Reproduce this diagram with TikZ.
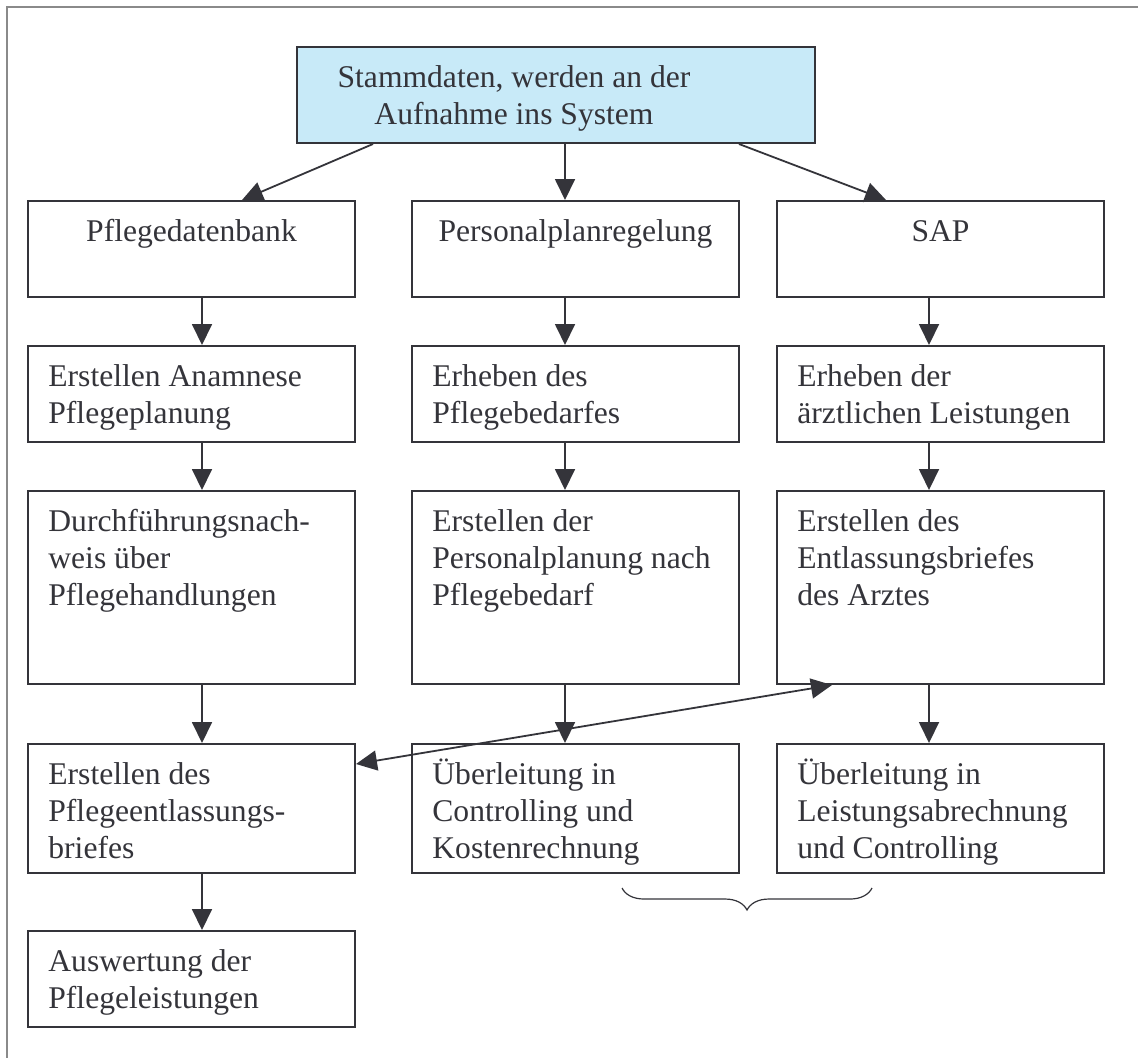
\documentclass[tikz,border=0pt]{standalone}
\usepackage{fontspec}
\setmainfont{Liberation Serif}
\usetikzlibrary{arrows.meta,calc,decorations.pathreplacing}
\definecolor{linec}{RGB}{52,52,58}
\definecolor{framec}{RGB}{138,138,138}
\definecolor{topfill}{RGB}{200,234,248}
\begin{document}
\begin{tikzpicture}[x=0.5pt,y=-0.5pt,
  box/.style={draw=linec,line width=1pt,anchor=north west,inner sep=0pt,minimum width=163.5pt},
  topbox/.style={box,fill=topfill,minimum width=259pt,minimum height=48pt},
  txt/.style={anchor=north west,inner sep=0pt,align=left,text=linec,
    font=\fontsize{15.8pt}{18.5pt}\selectfont},
  ctxt/.style={txt,anchor=north,align=center},
  arr/.style={draw=linec,line width=0.9pt,-{Triangle[length=10.5pt,width=10pt]}},
  darr/.style={draw=linec,line width=0.9pt,{Triangle[length=10.5pt,width=10pt]}-{Triangle[length=10.5pt,width=10pt]}}]
\useasboundingbox (0,0) rectangle (1138,1057);
\clip (0,0) rectangle (1138,1057);
% page frame
\draw[framec,line width=1pt] (7,1070) -- (7,7) -- (1150,7);

% top box
\node[topbox] (top) at (296,46) {};
\node[ctxt] (topt) at ($(top.north west)+(218,15)$) {\strut Stammdaten, werden an der\\Aufnahme ins System};

% row 1
\node[box,minimum height=48pt] (a1) at (27,200) {};
\node[box,minimum height=48pt] (b1) at (411,200) {};
\node[box,minimum height=48pt] (c1) at (776,200) {};
\node[ctxt] (a1t) at ($(a1.north)+(0,15)$) {\strut Pflegedatenbank};
\node[ctxt] (b1t) at ($(b1.north)+(0,15)$) {\strut Personalplanregelung};
\node[ctxt] (c1t) at ($(c1.north)+(0,15)$) {\strut SAP};

% row 2
\node[box,minimum height=48pt] (a2) at (27,345) {};
\node[box,minimum height=48pt] (b2) at (411,345) {};
\node[box,minimum height=48pt] (c2) at (776,345) {};
\node[txt] (a2t) at ($(a2.north west)+(21,15)$) {\strut Erstellen Anamnese\\Pflegeplanung};
\node[txt] (b2t) at ($(b2.north west)+(21,15)$) {\strut Erheben des\\Pflegebedarfes};
\node[txt] (c2t) at ($(c2.north west)+(21,15)$) {\strut Erheben der\\ärztlichen Leistungen};

% row 3
\node[box,minimum height=96.5pt] (a3) at (27,490) {};
\node[box,minimum height=96.5pt] (b3) at (411,490) {};
\node[box,minimum height=96.5pt] (c3) at (776,490) {};
\node[txt] (a3t) at ($(a3.north west)+(21,15)$) {\strut Durchführungsnach-\\weis über\\Pflegehandlungen};
\node[txt] (b3t) at ($(b3.north west)+(21,15)$) {\strut Erstellen der\\Personalplanung nach\\Pflegebedarf};
\node[txt] (c3t) at ($(c3.north west)+(21,15)$) {\strut Erstellen des\\Entlassungsbriefes\\des Arztes};

% row 4
\node[box,minimum height=64.5pt] (a4) at (27,743) {};
\node[box,minimum height=64.5pt] (b4) at (411,743) {};
\node[box,minimum height=64.5pt] (c4) at (776,743) {};
\node[txt] (a4t) at ($(a4.north west)+(21,15)$) {\strut Erstellen des\\Pflegeentlassungs-\\briefes};
\node[txt] (b4t) at ($(b4.north west)+(21,15)$) {\strut Überleitung in\\Controlling und\\Kostenrechnung};
\node[txt] (c4t) at ($(c4.north west)+(21,15)$) {\strut Überleitung in\\Leistungsabrechnung\\und Controlling};

% row 5
\node[box,minimum height=48pt] (a5) at (27,930) {};
\node[txt] (a5t) at ($(a5.north west)+(21,15)$) {\strut Auswertung der\\Pflegeleistungen};

% connectors from the top box
\draw[arr] ($(top.south west)+(77,0)$) -- ($(a1.north west)+(215,0)$);
\draw[arr] ($(top.south west)+(269,0)$) -- ($(b1.north west)+(154,0)$);
\draw[arr] ($(top.south west)+(443,0)$) -- ($(c1.north west)+(110,0)$);

% column connectors
\foreach \u/\v in {a1/a2,a2/a3,a3/a4,a4/a5}
  \draw[arr] ($(\u.south west)+(175,0)$) -- ($(\v.north west)+(175,0)$);
\foreach \u/\v in {b1/b2,b2/b3,b3/b4}
  \draw[arr] ($(\u.south west)+(154,0)$) -- ($(\v.north west)+(154,0)$);
\foreach \u/\v in {c1/c2,c2/c3,c3/c4}
  \draw[arr] ($(\u.south west)+(153,0)$) -- ($(\v.north west)+(153,0)$);

% exchange between discharge letters
\draw[darr] ($(a4.north east)+(0,21)$) -- ($(c3.south west)+(56,0)$);

% brace under the two transfer boxes
\draw[linec,line width=0.6pt,decorate,decoration={brace,mirror,amplitude=11pt}]
  (622,888) -- (872,888);
\end{tikzpicture}
\end{document}
